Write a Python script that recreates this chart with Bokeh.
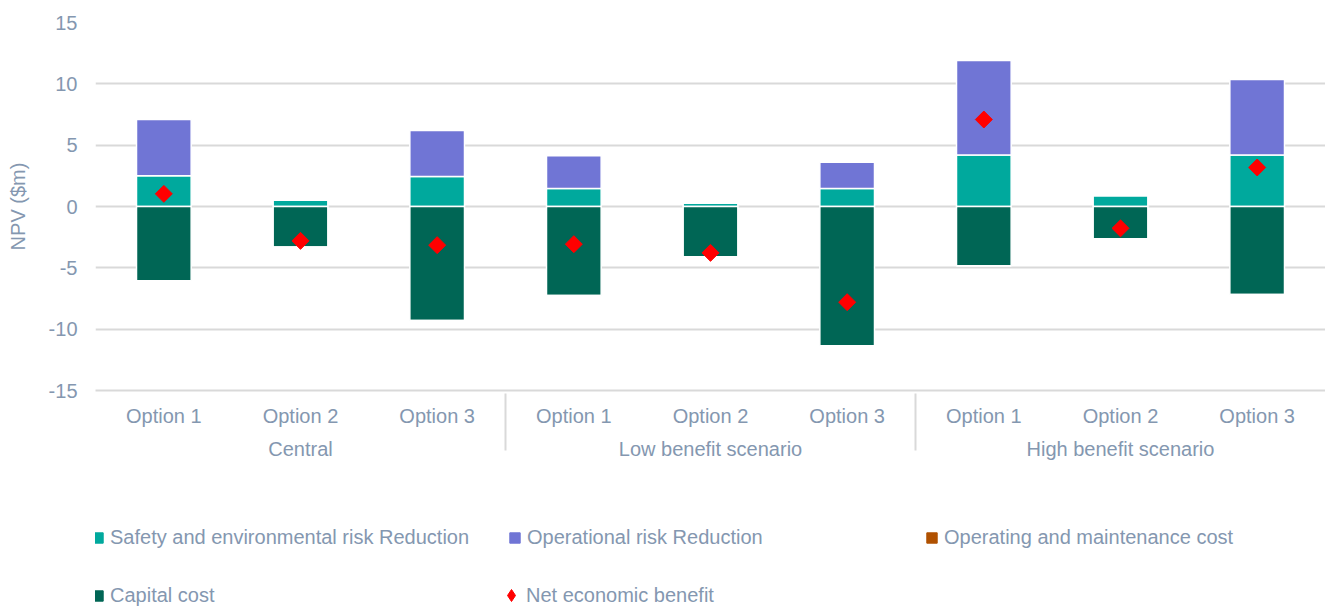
import math
from bokeh.plotting import figure
from bokeh.layouts import column
from bokeh.models import FactorRange, ColumnDataSource, Legend, LegendItem, FixedTicker, Range1d
from bokeh.embed import file_html
from bokeh.resources import INLINE

scenarios = ["Central", "Low benefit scenario", "High benefit scenario"]
options = ["Option 1", "Option 2", "Option 3"]

safety = [2.5, 0.5, 2.45, 1.47, 0.27, 1.47, 4.2, 0.87, 4.2]
operational = [4.6, 0.0, 3.75, 2.66, 0.0, 2.13, 7.7, 0.0, 6.15]
om_cost = [0.0, 0.0, 0.0, 0.0, 0.0, 0.0, 0.0, 0.0, 0.0]
capital = [-6.06, -3.3, -9.3, -7.25, -4.1, -11.35, -4.83, -2.63, -7.17]
net_benefit = [1.03, -2.8, -3.15, -3.07, -3.78, -7.8, 7.09, -1.78, 3.18]

y_ticks = [-15, -10, -5, 0, 5, 10, 15]

bar_labels = ["Safety and environmental risk Reduction", "Operational risk Reduction",
              "Operating and maintenance cost", "Capital cost"]
bar_colors = ["#00A99D", "#7075D5", "#B05100", "#006655"]
net_label = "Net economic benefit"
net_color = "#FF0000"

FONT = "Liberation Sans"
TXT = "#8497B0"
GRID = "#D9D9D9"

x = [(s, o) for s in scenarios for o in options]
src = ColumnDataSource(dict(x=x, safety=safety, operational=operational,
                            om=om_cost, capital=capital, net=net_benefit))

p = figure(x_range=FactorRange(*x, range_padding=0, group_padding=0, factor_padding=0),
           y_range=(-15, 15), width=1325, height=480,
           output_backend="svg", toolbar_location=None,
           min_border_left=95, min_border_top=22, min_border_right=0, min_border_bottom=90)
p.outline_line_color = None

p.vbar_stack(["safety", "operational"], x="x", width=0.4, source=src,
             color=[bar_colors[0], bar_colors[1]], line_color="white", line_width=1.5)
p.vbar_stack(["capital", "om"], x="x", width=0.4, source=src,
             color=[bar_colors[3], bar_colors[2]], line_color="white", line_width=1.5)
p.scatter(x="x", y="net", source=src, marker="square", angle=math.pi / 4,
          size=12, color=net_color, line_color=net_color)

p.yaxis.ticker = FixedTicker(ticks=y_ticks)
p.yaxis.major_label_overrides = {t: str(t) for t in y_ticks}
p.yaxis.axis_line_color = None
p.yaxis.major_tick_line_color = None
p.yaxis.minor_tick_line_color = None
p.yaxis.major_label_text_font = FONT
p.yaxis.major_label_text_font_size = "20px"
p.yaxis.major_label_text_color = TXT
p.yaxis.major_label_standoff = 12
p.yaxis.axis_label = "NPV ($m)"
p.yaxis.axis_label_text_font = FONT
p.yaxis.axis_label_text_font_size = "20px"
p.yaxis.axis_label_text_font_style = "normal"
p.yaxis.axis_label_text_color = TXT
p.yaxis.axis_label_standoff = 17

p.ygrid.grid_line_color = GRID
p.ygrid.grid_line_width = 2
p.xgrid.grid_line_color = None

xa = p.xaxis[0]
xa.axis_line_color = GRID
xa.axis_line_width = 2
xa.major_tick_line_color = None
xa.minor_tick_line_color = None
xa.major_label_text_font = FONT
xa.major_label_text_font_size = "20px"
xa.major_label_text_color = TXT
xa.major_label_text_baseline = "middle"
xa.major_label_standoff = 8
xa.group_text_font = FONT
xa.group_text_font_size = "20px"
xa.group_text_font_style = "normal"
xa.group_text_color = TXT
xa.separator_line_color = GRID
xa.separator_line_width = 2

# legend figure (legend swatches only; dummy glyphs sit outside its visible range)
lf = figure(width=1325, height=127, x_range=Range1d(0, 1), y_range=Range1d(0, 1),
            output_backend="svg", toolbar_location=None,
            x_axis_location=None, y_axis_location=None, min_border=0)
lf.outline_line_color = None
lf.grid.grid_line_color = None
bar_rends = [lf.vbar(x=[5], top=[5], bottom=4, width=0.1, color=c) for c in bar_colors]
net_rend = lf.scatter(x=[5], y=[5], marker="diamond", size=12, color=net_color,
                      line_color=net_color)

common = dict(orientation="horizontal", label_text_font=FONT, label_text_font_size="20px",
              label_text_color=TXT, label_height=58, spacing=0, padding=0, margin=0,
              border_line_color=None, background_fill_alpha=0)

legend_a = Legend(items=[LegendItem(label=l, renderers=[r]) for l, r in zip(bar_labels, bar_rends)],
                  ncols=3, location=(-4, -17), glyph_width=13, glyph_height=13,
                  label_standoff=6, label_width=398, **common)
legend_b = Legend(items=[LegendItem(label=net_label, renderers=[net_rend])],
                  location=(401, -17), glyph_width=30, glyph_height=36,
                  label_standoff=0, label_width=300, **common)
lf.add_layout(legend_a, "center")
lf.add_layout(legend_b, "center")

layout = column(p, lf, spacing=0)
open("out.html", "w").write(file_html(layout, INLINE))
